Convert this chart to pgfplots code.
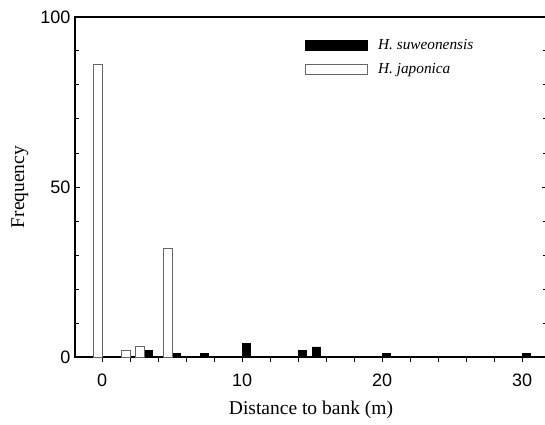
\documentclass[border=0pt]{standalone}
\usepackage{fontspec}
\setmainfont{Liberation Serif}
\newfontfamily\arialf{Liberation Sans}
\usepackage{pgfplots}
\pgfplotsset{compat=1.18}
\begin{document}
\begin{tikzpicture}
\begin{axis}[
  name=ax, at={(0,0)}, anchor=south west,
  scale only axis, width=472bp, height=340bp,
  xmin=-1.93, xmax=31.78, ymin=0, ymax=100,
  xtick={0,10,20,30}, minor xtick={2,4,6,8,12,14,16,18,22,24,26,28},
  ytick={0,50,100}, minor ytick={10,20,30,40,60,70,80,90},
  xtick pos=bottom, ytick pos=both, yticklabel pos=left,
  xtick align=outside, ytick align=inside,
  major tick length=5bp, minor tick length=4.5bp,
  every tick/.style={black, line width=1pt},
  axis line style={line width=1.4pt},
  /pgf/number format/assume math mode=true,
  ticklabel style={font=\arialf\fontsize{18bp}{20bp}\selectfont},
  label style={font=\fontsize{19.5bp}{22bp}\selectfont},
  xlabel={Distance to bank (m)},
  ylabel={Frequency},
  xlabel style={at={(axis description cs:0.5,-0.155)}, anchor=center},
  ylabel style={at={(axis description cs:-0.1168,0.5)}, anchor=center},
  yticklabel style={xshift=-1bp},
  xticklabel style={yshift=-8bp},
  ybar, bar width=0.6,
  legend style={at={(axis cs:14.3,94.6)}, anchor=north west, draw=none, fill=none,
    font=\itshape\fontsize{15.3bp}{17bp}\selectfont, row sep=8bp},
  legend cell align=left,
  legend image code/.code={\draw[#1, line width=0.6pt] (0bp,-5bp) rectangle (62bp,5bp); \path (70bp,0bp);},
]
\addplot[fill=black, draw=black, bar shift=0.3] coordinates {
 (3,2) (5,1) (7,1) (10,4) (14,2) (15,3) (20,1) (30,1)};
\addlegendentry{H. suweonensis}
\addplot[fill=white, draw=black!60, line width=0.8pt, bar shift=-0.3] coordinates {
 (0,86) (2,2) (3,3) (5,32)};
\addlegendentry{H. japonica}
\end{axis}
\pgfresetboundingbox
\useasboundingbox (-75bp,-68bp) rectangle (470bp,357bp);
\end{tikzpicture}
\end{document}
